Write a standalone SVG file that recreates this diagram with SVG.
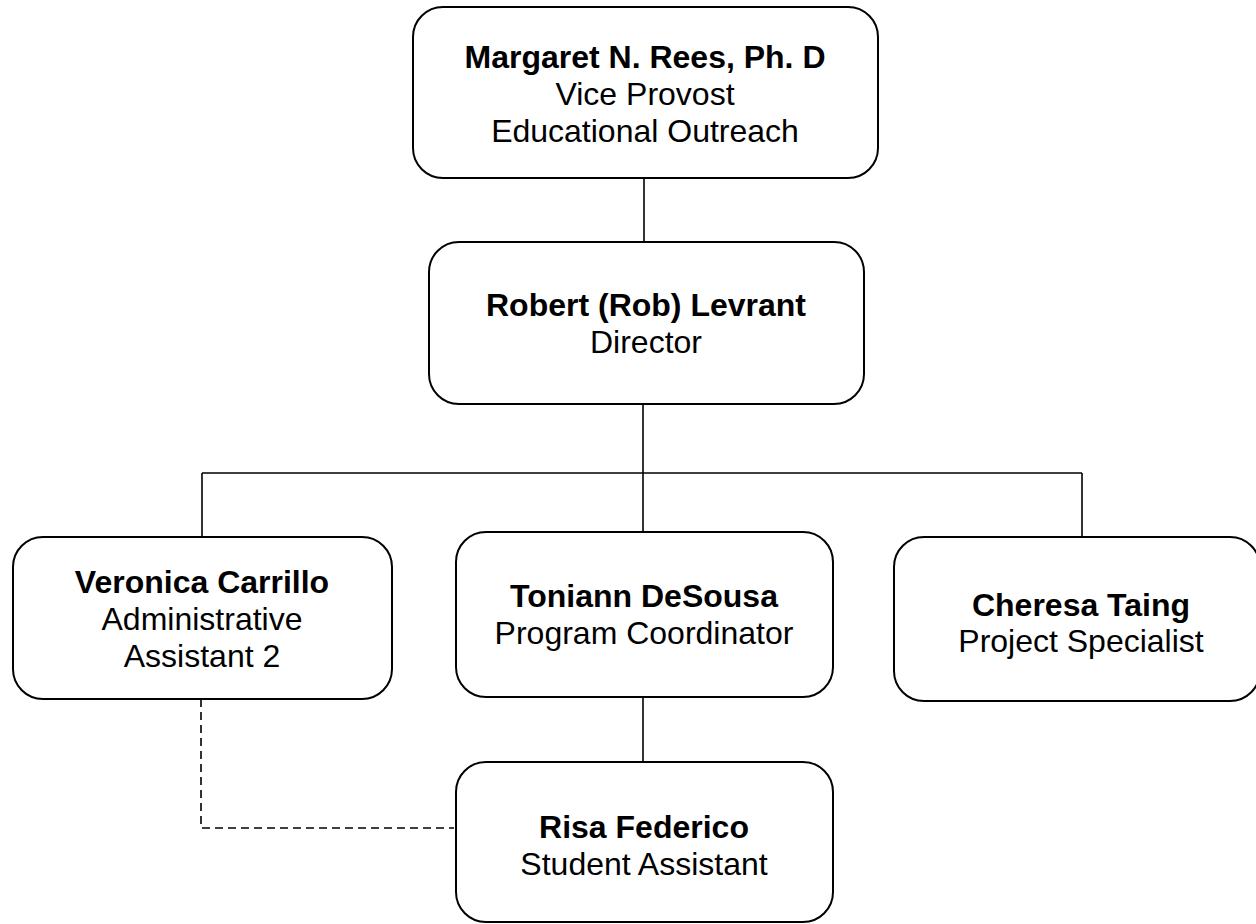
<svg xmlns="http://www.w3.org/2000/svg" width="1256" height="924" viewBox="0 0 1256 924">
<style>
.box{fill:#fff;stroke:#000;stroke-width:2}
.ln{fill:none;stroke:#000;stroke-width:1.6}
.dash{fill:none;stroke:#000;stroke-width:1.6;stroke-dasharray:8 5}
text{font-family:"Liberation Sans",Arial,sans-serif;font-size:32px;fill:#000;text-anchor:middle}
.b{font-weight:bold}
</style>
<rect width="1256" height="924" fill="#fff"/>
<g id="connectors">
<line class="ln" x1="644" y1="178" x2="644" y2="242"/>
<line class="ln" x1="643" y1="404" x2="643" y2="532"/>
<line class="ln" x1="202" y1="473" x2="1082" y2="473"/>
<line class="ln" x1="202" y1="473" x2="202" y2="537"/>
<line class="ln" x1="1082" y1="473" x2="1082" y2="537"/>
<line class="ln" x1="643" y1="697" x2="643" y2="762"/>
<path class="dash" d="M201 699 V828 H454"/>
</g>
<g id="margaret">
<rect class="box" x="413" y="7" width="465" height="171" rx="30"/>
<text x="645" y="68" class="b">Margaret N. Rees, Ph. D</text>
<text x="645" y="105">Vice Provost</text>
<text x="645" y="142">Educational Outreach</text>
</g>
<g id="robert">
<rect class="box" x="429" y="242" width="435" height="162" rx="30"/>
<text x="646" y="316" class="b">Robert (Rob) Levrant</text>
<text x="646" y="353">Director</text>
</g>
<g id="veronica">
<rect class="box" x="13" y="537" width="379" height="162" rx="30"/>
<text x="202" y="593" class="b">Veronica Carrillo</text>
<text x="202" y="630">Administrative</text>
<text x="202" y="667">Assistant 2</text>
</g>
<g id="toniann">
<rect class="box" x="456" y="532" width="377" height="165" rx="30"/>
<text x="644" y="607" class="b">Toniann DeSousa</text>
<text x="644" y="644">Program Coordinator</text>
</g>
<g id="cheresa">
<rect class="box" x="894" y="537" width="366" height="164" rx="30"/>
<text x="1081" y="616" class="b">Cheresa Taing</text>
<text x="1081" y="652">Project Specialist</text>
</g>
<g id="risa">
<rect class="box" x="456" y="762" width="377" height="160" rx="30"/>
<text x="644" y="838" class="b">Risa Federico</text>
<text x="644" y="875">Student Assistant</text>
</g>
</svg>
